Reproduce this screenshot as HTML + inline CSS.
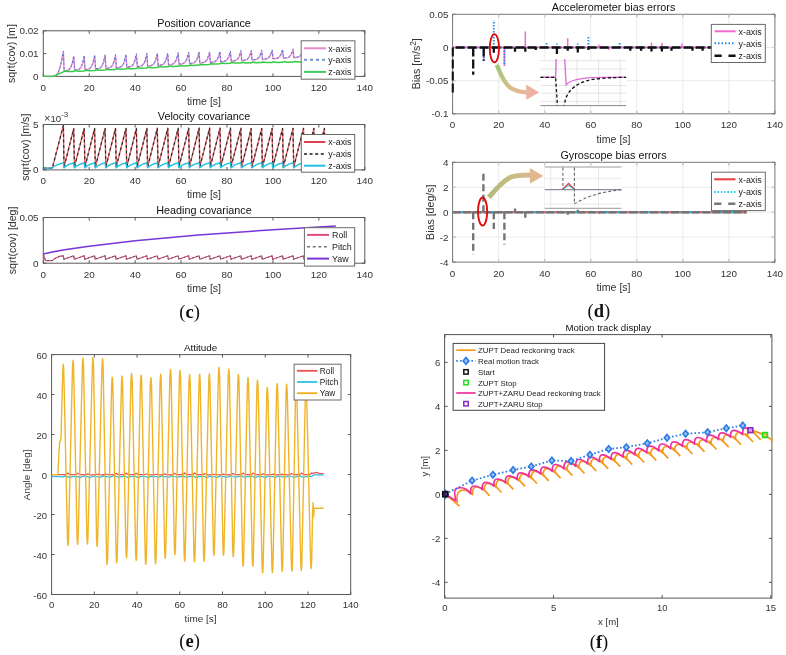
<!DOCTYPE html>
<html><head><meta charset="utf-8"><style>
html,body{margin:0;padding:0;background:#fff;}
svg{display:block;will-change:transform;}
</style></head><body>
<svg width="786" height="655" viewBox="0 0 786 655">
<rect width="786" height="655" fill="#fff"/>
<clipPath id="cp"><rect x="42.099999999999994" y="30.2" width="323.9" height="46.80000000000001"/></clipPath>
<rect x="43.3" y="30.8" width="321.5" height="45.60000000000001" fill="none" stroke="#5a5a5a" stroke-width="1.0"/>
<path d="M43.30,76.4v-3M43.30,30.8v3M89.23,76.4v-3M89.23,30.8v3M135.16,76.4v-3M135.16,30.8v3M181.09,76.4v-3M181.09,30.8v3M227.01,76.4v-3M227.01,30.8v3M272.94,76.4v-3M272.94,30.8v3M318.87,76.4v-3M318.87,30.8v3M364.80,76.4v-3M364.80,30.8v3M43.3,76.40h3M364.8,76.40h-3M43.3,53.60h3M364.8,53.60h-3M43.3,30.80h3M364.8,30.80h-3" stroke="#5a5a5a" stroke-width="1.0" fill="none"/>
<polyline points="43.3,76.4 54.0,76.4 55.6,75.8 56.8,74.7 58.5,71.9 60.1,67.2 61.5,61.7 63.3,52.0 63.4,52.0 64.1,70.8 66.6,70.6 68.0,70.3 69.2,69.5 70.2,68.4 71.1,66.6 72.1,64.1 73.8,57.0 74.6,70.2 77.1,70.0 78.4,69.6 79.7,68.9 80.6,67.8 81.6,66.1 82.6,63.5 84.2,56.6 85.0,69.6 87.5,69.4 88.9,69.0 90.1,68.3 91.1,67.2 92.1,65.5 93.0,63.0 94.7,56.1 95.5,69.0 97.9,68.8 99.4,68.4 100.6,67.7 101.6,66.6 102.5,64.9 103.5,62.4 105.2,55.7 105.9,68.4 108.3,68.2 109.7,67.9 111.0,67.2 111.9,66.2 112.9,64.6 113.8,62.3 115.5,55.8 115.6,55.9 116.3,67.8 118.8,67.6 120.2,67.3 121.4,66.6 122.4,65.6 123.4,64.0 124.3,61.7 126.0,55.4 126.8,67.2 129.3,67.0 130.7,66.7 131.9,66.0 132.9,65.0 133.8,63.4 134.8,61.2 136.4,54.9 137.3,66.6 139.8,66.4 141.1,66.1 142.4,65.4 143.3,64.4 144.3,62.9 145.3,60.6 146.9,54.5 147.6,65.8 147.7,66.0 150.1,65.9 151.5,65.6 152.7,64.9 153.7,64.0 154.6,62.6 155.6,60.4 157.4,54.3 158.1,65.5 160.6,65.3 161.9,65.0 163.2,64.3 164.1,63.4 165.1,62.0 166.1,59.9 167.7,54.2 168.5,64.9 171.0,64.7 172.4,64.4 173.6,63.7 174.6,62.8 175.6,61.4 176.5,59.4 178.2,53.7 179.0,64.3 181.5,64.1 182.9,63.8 184.1,63.1 185.1,62.2 186.0,60.8 187.0,58.8 188.7,53.3 189.5,63.7 191.8,63.5 193.3,63.2 194.6,62.5 195.6,61.6 196.5,60.3 197.5,58.3 199.1,52.8 199.8,63.0 200.0,63.1 203.7,62.6 204.9,62.0 205.9,61.2 206.9,59.9 207.7,58.4 209.6,52.9 210.3,62.5 214.2,62.0 215.4,61.4 216.4,60.6 217.3,59.4 218.3,57.5 219.9,52.5 220.8,61.9 224.6,61.4 225.9,60.8 226.8,60.0 227.8,58.8 228.8,57.0 230.4,52.1 231.2,61.3 235.1,60.8 236.3,60.2 237.3,59.5 238.3,58.2 239.2,56.5 240.9,51.7 241.7,60.7 245.6,60.2 246.8,59.6 247.8,58.9 248.7,57.7 249.7,56.0 251.4,51.4 252.0,60.1 255.9,59.7 257.1,59.1 258.1,58.4 259.1,57.3 260.0,55.7 261.7,51.3 261.8,51.5 262.5,59.5 266.4,59.1 267.6,58.5 268.6,57.8 269.5,56.8 270.5,55.2 272.2,50.9 273.0,58.9 276.8,58.5 278.1,58.0 279.1,57.3 280.0,56.2 281.0,54.7 282.6,50.5 283.5,58.3 287.3,57.9 288.6,57.4 289.5,56.7 290.5,55.7 291.5,54.1 293.1,50.1 293.8,57.6 293.9,57.7 297.7,57.3 298.9,56.8 299.9,56.2 300.8,55.3 301.8,53.9 303.6,49.9 304.3,57.1 308.1,56.7 309.4,56.3 310.3,55.7 311.3,54.7 312.3,53.4 313.9,49.7 314.7,56.5 318.6,56.1 319.8,55.7 320.8,55.1 321.8,54.2 322.7,52.8 324.4,49.3 325.2,55.9 329.1,55.5 330.3,55.1 331.3,54.5 332.2,53.6 333.2,52.3 334.9,48.9 335.5,55.1 335.7,55.3 336.1,55.3" fill="none" stroke="#e58ccc" stroke-width="1.4" clip-path="url(#cp)" stroke-linejoin="round"/>
<polyline points="43.3,76.4 54.0,76.4 55.6,75.8 56.8,74.6 58.5,71.7 60.1,66.9 61.5,61.2 63.3,51.2 63.4,51.1 64.1,70.8 66.2,70.7 66.3,70.3 68.1,69.8 69.2,69.1 70.2,67.9 71.1,66.0 72.1,63.3 73.8,55.8 74.6,69.9 77.1,69.7 78.4,69.3 79.7,68.5 80.6,67.3 81.6,65.5 82.6,62.7 84.2,55.3 85.0,69.3 87.5,69.1 88.9,68.7 90.1,67.9 91.1,66.7 92.1,64.9 93.0,62.2 94.7,54.8 95.5,68.7 97.9,68.5 99.4,68.1 100.6,67.3 101.6,66.1 102.5,64.3 103.5,61.6 105.2,54.5 105.9,68.1 108.3,67.9 109.7,67.5 111.0,66.8 111.9,65.7 112.9,64.0 113.8,61.5 115.5,54.6 115.6,54.7 116.3,67.5 118.8,67.3 120.2,66.9 121.4,66.2 122.4,65.1 123.4,63.4 124.3,60.9 126.0,54.1 126.8,66.9 129.3,66.7 130.7,66.3 131.9,65.6 132.9,64.5 133.8,62.9 134.8,60.4 136.4,53.7 137.3,66.3 139.8,66.1 141.1,65.7 142.4,65.0 143.3,63.9 144.3,62.3 145.3,59.8 146.9,53.2 147.6,65.5 147.7,65.7 150.1,65.5 151.5,65.2 152.7,64.5 153.7,63.5 154.6,62.0 155.6,59.7 157.4,53.1 158.1,65.1 160.6,64.9 161.9,64.6 163.2,63.9 164.1,62.9 165.1,61.4 166.1,59.1 167.7,53.0 168.5,64.5 171.0,64.3 172.4,64.0 173.6,63.3 174.6,62.3 175.6,60.8 176.5,58.6 178.2,52.5 179.0,63.9 181.5,63.7 182.9,63.4 184.1,62.7 185.1,61.7 186.0,60.2 187.0,58.0 188.7,52.0 189.5,63.3 191.8,63.1 193.3,62.8 194.6,62.1 195.6,61.2 196.5,59.7 197.5,57.5 199.1,51.6 199.8,62.7 200.0,62.7 202.3,62.5 203.7,62.2 204.9,61.6 205.9,60.7 206.9,59.4 207.7,57.7 209.6,51.7 210.3,62.1 212.8,61.9 214.2,61.6 215.4,61.0 216.4,60.1 217.3,58.8 218.3,56.8 219.9,51.3 220.8,61.5 223.2,61.3 224.6,61.0 225.9,60.4 226.8,59.6 227.8,58.2 228.8,56.2 230.4,50.9 231.2,60.9 233.7,60.7 235.1,60.4 236.3,59.8 237.3,59.0 238.3,57.6 239.2,55.7 240.9,50.4 241.7,60.3 244.1,60.2 245.6,59.8 246.8,59.2 247.8,58.4 248.7,57.1 249.7,55.2 251.4,50.2 252.0,59.8 255.9,59.3 257.1,58.7 258.1,57.9 259.1,56.7 260.0,55.0 261.7,50.1 261.8,50.2 262.5,59.2 266.4,58.7 267.6,58.1 268.6,57.4 269.5,56.2 270.5,54.4 272.2,49.7 273.0,58.6 276.8,58.1 278.1,57.5 279.1,56.8 280.0,55.6 281.0,53.9 282.6,49.2 283.5,58.0 287.3,57.5 288.6,57.0 289.5,56.2 290.5,55.1 291.5,53.4 293.1,48.8 293.8,57.3 293.9,57.4 297.7,56.9 298.9,56.4 299.9,55.8 300.8,54.7 301.8,53.1 303.6,48.7 304.3,56.8 308.1,56.3 309.4,55.8 310.3,55.2 311.3,54.1 312.3,52.6 313.9,48.4 314.7,56.2 318.6,55.7 319.8,55.3 320.8,54.6 321.8,53.6 322.7,52.1 324.4,48.0 325.2,55.6 329.1,55.1 330.3,54.7 331.3,54.0 332.2,53.0 333.2,51.6 334.9,47.6 335.5,54.7 335.7,55.0 336.1,55.0" fill="none" stroke="#4a78e0" stroke-width="1.0" stroke-dasharray="2,2.2" clip-path="url(#cp)" stroke-linejoin="round"/>
<polyline points="43.3,76.4 53.2,76.4 63.3,71.9 64.5,71.1 68.1,71.6 73.8,71.4 75.0,70.6 78.4,71.2 84.2,70.9 85.5,70.2 88.9,70.7 94.7,70.4 95.9,69.7 99.4,70.2 105.2,69.9 106.4,69.2 109.7,69.7 115.5,69.4 116.7,68.7 120.3,69.2 126.0,68.9 127.2,68.2 130.7,68.7 136.4,68.4 137.7,67.7 141.1,68.2 146.9,67.9 148.2,67.2 151.6,67.7 157.2,67.4 158.5,66.6 161.9,67.1 167.7,66.8 169.0,66.1 172.4,66.6 178.2,66.3 179.4,65.6 182.9,66.1 188.7,65.8 189.9,65.0 193.3,65.5 199.1,65.1 200.4,64.4 203.7,64.8 209.5,64.5 210.7,63.7 214.2,64.1 219.9,63.8 221.2,63.0 224.6,63.5 230.4,63.2 231.7,62.5 235.1,63.1 240.9,63.0 242.1,62.3 245.6,62.9 251.4,62.8 252.6,62.1 255.9,62.7 261.7,62.6 262.9,61.9 266.4,62.5 272.2,62.4 273.4,61.7 276.8,62.4 282.6,62.3 283.9,61.6 287.3,62.2 293.1,62.1 294.3,61.4 297.8,62.0 303.4,61.9 304.7,61.2 308.1,61.8 309.6,61.8 313.9,61.7 315.2,61.0 318.6,61.7 324.4,61.6 325.6,60.9 329.1,61.5 334.9,61.4 336.1,60.7" fill="none" stroke="#33cc44" stroke-width="1.5" clip-path="url(#cp)" stroke-linejoin="round"/>
<text x="43.30" y="90.60" font-size="9.85" text-anchor="middle" fill="#333333" font-family='"Liberation Sans", sans-serif' font-weight="normal">0</text>
<text x="89.23" y="90.60" font-size="9.85" text-anchor="middle" fill="#333333" font-family='"Liberation Sans", sans-serif' font-weight="normal">20</text>
<text x="135.16" y="90.60" font-size="9.85" text-anchor="middle" fill="#333333" font-family='"Liberation Sans", sans-serif' font-weight="normal">40</text>
<text x="181.09" y="90.60" font-size="9.85" text-anchor="middle" fill="#333333" font-family='"Liberation Sans", sans-serif' font-weight="normal">60</text>
<text x="227.01" y="90.60" font-size="9.85" text-anchor="middle" fill="#333333" font-family='"Liberation Sans", sans-serif' font-weight="normal">80</text>
<text x="272.94" y="90.60" font-size="9.85" text-anchor="middle" fill="#333333" font-family='"Liberation Sans", sans-serif' font-weight="normal">100</text>
<text x="318.87" y="90.60" font-size="9.85" text-anchor="middle" fill="#333333" font-family='"Liberation Sans", sans-serif' font-weight="normal">120</text>
<text x="364.80" y="90.60" font-size="9.85" text-anchor="middle" fill="#333333" font-family='"Liberation Sans", sans-serif' font-weight="normal">140</text>
<text x="38.60" y="79.85" font-size="9.85" text-anchor="end" fill="#333333" font-family='"Liberation Sans", sans-serif' font-weight="normal">0</text>
<text x="38.60" y="57.05" font-size="9.85" text-anchor="end" fill="#333333" font-family='"Liberation Sans", sans-serif' font-weight="normal">0.01</text>
<text x="38.60" y="34.25" font-size="9.85" text-anchor="end" fill="#333333" font-family='"Liberation Sans", sans-serif' font-weight="normal">0.02</text>
<text x="204.00" y="27.10" font-size="10.8" text-anchor="middle" fill="#111" font-family='"Liberation Sans", sans-serif' font-weight="normal">Position covariance</text>
<text x="204.00" y="104.60" font-size="10.6" text-anchor="middle" fill="#333333" font-family='"Liberation Sans", sans-serif' font-weight="normal">time [s]</text>
<text x="15.50" y="53.60" font-size="10.6" text-anchor="middle" fill="#333333" font-family='"Liberation Sans", sans-serif' font-weight="normal" transform="rotate(-90 15.50 53.60)">sqrt(cov) [m]</text>
<rect x="301.2" y="40.8" width="53.69999999999999" height="38.400000000000006" fill="#fff" stroke="#6a6a6a" stroke-width="1"/>
<line x1="304" y1="48.30" x2="326" y2="48.30" stroke="#e58ccc" stroke-width="2" stroke-linecap="butt"/>
<text x="328.20" y="51.50" font-size="8.9" text-anchor="start" fill="#222" font-family='"Liberation Sans", sans-serif' font-weight="normal">x-axis</text>
<line x1="304" y1="59.80" x2="326" y2="59.80" stroke="#6f8fd6" stroke-width="2" stroke-dasharray="3,3" stroke-linecap="butt"/>
<text x="328.20" y="63.00" font-size="8.9" text-anchor="start" fill="#222" font-family='"Liberation Sans", sans-serif' font-weight="normal">y-axis</text>
<line x1="304" y1="71.90" x2="326" y2="71.90" stroke="#44c866" stroke-width="2" stroke-linecap="butt"/>
<text x="328.20" y="75.10" font-size="8.9" text-anchor="start" fill="#222" font-family='"Liberation Sans", sans-serif' font-weight="normal">z-axis</text>
<clipPath id="cv"><rect x="42.099999999999994" y="123.9" width="323.9" height="46.60000000000001"/></clipPath>
<rect x="43.3" y="124.5" width="321.5" height="45.400000000000006" fill="none" stroke="#5a5a5a" stroke-width="1.0"/>
<path d="M43.30,169.9v-3M43.30,124.5v3M89.23,169.9v-3M89.23,124.5v3M135.16,169.9v-3M135.16,124.5v3M181.09,169.9v-3M181.09,124.5v3M227.01,169.9v-3M227.01,124.5v3M272.94,169.9v-3M272.94,124.5v3M318.87,169.9v-3M318.87,124.5v3M364.80,169.9v-3M364.80,124.5v3M43.3,169.90h3M364.8,169.90h-3M43.3,124.50h3M364.8,124.50h-3" stroke="#5a5a5a" stroke-width="1.0" fill="none"/>
<polyline points="43.3,168.1 52.3,168.1 63.4,125.4 64.0,167.2 73.7,128.6 74.4,167.1 84.2,128.5 84.9,167.1 94.6,128.5 95.3,167.1 105.1,128.5 105.8,167.1 115.5,128.5 116.2,167.0 126.0,128.4 126.7,167.0 136.4,128.4 137.1,167.0 146.9,128.4 147.6,167.0 157.3,128.3 158.0,166.9 167.8,128.3 168.5,166.9 178.2,128.3 178.9,166.9 188.7,128.3 189.4,166.8 199.1,128.2 199.8,166.8 209.6,128.2 210.3,166.8 220.0,128.2 220.7,166.8 230.5,128.2 231.0,166.9 240.9,128.3 241.5,167.2 251.2,128.5 251.9,167.1 261.7,128.5 262.4,167.1 272.1,128.5 272.8,167.1 282.6,128.5 283.3,167.1 293.0,128.4 293.7,167.0 303.5,128.4 304.2,167.0 313.9,128.4 314.6,167.0 324.4,128.4 325.1,166.9 326.2,162.4" fill="none" stroke="#ec6a6e" stroke-width="1.4" clip-path="url(#cv)" stroke-linejoin="round"/>
<polyline points="43.3,168.1 52.3,168.1 63.4,125.4 64.0,167.2 73.7,128.6 74.4,167.1 84.2,128.5 84.9,167.1 94.6,128.5 95.3,167.1 105.1,128.5 105.8,167.1 115.5,128.5 116.2,167.0 126.0,128.4 126.7,167.0 136.4,128.4 137.1,167.0 146.9,128.4 147.6,167.0 157.3,128.3 158.0,166.9 167.8,128.3 168.5,166.9 178.2,128.3 178.9,166.9 188.7,128.3 189.4,166.8 199.1,128.2 199.8,166.8 209.6,128.2 210.3,166.8 220.0,128.2 220.7,166.8 230.5,128.2 231.0,166.9 240.9,128.3 241.5,167.2 251.2,128.5 251.9,167.1 261.7,128.5 262.4,167.1 272.1,128.5 272.8,167.1 282.6,128.5 283.3,167.1 293.0,128.4 293.7,167.0 303.5,128.4 304.2,167.0 313.9,128.4 314.6,167.0 324.4,128.4 325.1,166.9 326.2,162.4" fill="none" stroke="#2a2a2a" stroke-width="1.2" stroke-dasharray="3,2.6" clip-path="url(#cv)" stroke-linejoin="round"/>
<polyline points="43.3,168.1 52.3,168.1 52.4,167.8 54.0,166.5 56.8,164.9 59.8,163.8 63.4,162.9 64.0,167.9 65.9,166.2 68.2,164.8 70.7,163.7 73.7,162.9 74.4,167.9 76.4,166.2 78.7,164.8 81.2,163.7 84.2,162.9 84.9,167.9 86.8,166.2 89.1,164.8 91.6,163.7 94.6,162.9 95.3,167.9 97.3,166.2 99.6,164.8 102.1,163.7 105.1,162.9 105.8,167.9 107.7,166.2 110.0,164.8 112.5,163.7 115.5,162.9 116.2,167.9 118.2,166.2 120.5,164.8 123.0,163.7 126.0,162.9 126.7,167.9 128.6,166.2 130.9,164.8 133.4,163.7 136.4,162.9 137.1,167.9 139.1,166.2 141.4,164.8 143.9,163.7 146.9,162.9 147.6,167.8 149.5,166.2 151.8,164.8 154.3,163.7 157.3,162.9 158.0,167.8 160.0,166.2 162.3,164.8 164.8,163.7 167.8,162.9 168.5,167.8 170.4,166.2 172.7,164.8 175.2,163.7 178.2,162.9 178.9,167.8 180.9,166.1 183.2,164.7 185.7,163.7 188.7,162.9 189.4,167.8 191.3,166.1 193.6,164.7 196.1,163.7 199.1,162.9 199.8,167.8 201.8,166.1 204.0,164.7 206.6,163.7 209.6,162.9 210.3,167.8 212.2,166.1 214.5,164.7 217.0,163.7 220.0,162.9 220.6,167.8 222.9,166.0 225.1,164.7 227.6,163.7 230.5,162.9 231.0,167.9 233.2,166.0 235.4,164.7 238.0,163.7 240.9,162.9 241.5,167.9 243.4,166.2 245.7,164.8 248.3,163.7 251.2,162.9 251.9,167.9 253.9,166.2 256.2,164.8 258.7,163.7 261.7,162.9 262.4,167.9 264.3,166.2 266.6,164.8 269.2,163.7 272.1,162.9 272.8,167.9 274.8,166.2 277.1,164.8 279.6,163.7 282.6,162.9 283.3,167.9 285.2,166.2 287.5,164.8 290.1,163.7 293.0,162.9 293.7,167.9 295.7,166.2 298.0,164.8 300.5,163.7 303.5,162.9 304.2,167.9 306.1,166.2 308.4,164.8 310.9,163.7 313.9,162.9 314.6,167.9 316.6,166.2 318.9,164.8 321.4,163.7 324.4,162.9 325.1,167.8 326.2,166.8" fill="none" stroke="#20c0e0" stroke-width="1.4" clip-path="url(#cv)" stroke-linejoin="round"/>
<text x="43.30" y="184.30" font-size="9.85" text-anchor="middle" fill="#333333" font-family='"Liberation Sans", sans-serif' font-weight="normal">0</text>
<text x="89.23" y="184.30" font-size="9.85" text-anchor="middle" fill="#333333" font-family='"Liberation Sans", sans-serif' font-weight="normal">20</text>
<text x="135.16" y="184.30" font-size="9.85" text-anchor="middle" fill="#333333" font-family='"Liberation Sans", sans-serif' font-weight="normal">40</text>
<text x="181.09" y="184.30" font-size="9.85" text-anchor="middle" fill="#333333" font-family='"Liberation Sans", sans-serif' font-weight="normal">60</text>
<text x="227.01" y="184.30" font-size="9.85" text-anchor="middle" fill="#333333" font-family='"Liberation Sans", sans-serif' font-weight="normal">80</text>
<text x="272.94" y="184.30" font-size="9.85" text-anchor="middle" fill="#333333" font-family='"Liberation Sans", sans-serif' font-weight="normal">100</text>
<text x="318.87" y="184.30" font-size="9.85" text-anchor="middle" fill="#333333" font-family='"Liberation Sans", sans-serif' font-weight="normal">120</text>
<text x="364.80" y="184.30" font-size="9.85" text-anchor="middle" fill="#333333" font-family='"Liberation Sans", sans-serif' font-weight="normal">140</text>
<text x="38.60" y="173.35" font-size="9.85" text-anchor="end" fill="#333333" font-family='"Liberation Sans", sans-serif' font-weight="normal">0</text>
<text x="38.60" y="127.95" font-size="9.85" text-anchor="end" fill="#333333" font-family='"Liberation Sans", sans-serif' font-weight="normal">5</text>
<text x="44.0" y="122.0" font-size="9.7" fill="#333333" font-family='"Liberation Sans", sans-serif'><tspan font-size="11">×</tspan>10<tspan dy="-4.7" font-size="7.9">-3</tspan></text>
<text x="204.00" y="120.30" font-size="10.8" text-anchor="middle" fill="#111" font-family='"Liberation Sans", sans-serif' font-weight="normal">Velocity covariance</text>
<text x="204.00" y="198.20" font-size="10.6" text-anchor="middle" fill="#333333" font-family='"Liberation Sans", sans-serif' font-weight="normal">time [s]</text>
<text x="29.00" y="147.20" font-size="10.6" text-anchor="middle" fill="#333333" font-family='"Liberation Sans", sans-serif' font-weight="normal" transform="rotate(-90 29.00 147.20)">sqrt(cov) [m/s]</text>
<rect x="301.3" y="134.5" width="53.39999999999998" height="37.69999999999999" fill="#fff" stroke="#6a6a6a" stroke-width="1"/>
<line x1="304" y1="142.00" x2="325.3" y2="142.00" stroke="#d9434f" stroke-width="2" stroke-linecap="butt"/>
<text x="328.30" y="145.20" font-size="8.9" text-anchor="start" fill="#222" font-family='"Liberation Sans", sans-serif' font-weight="normal">x-axis</text>
<line x1="304" y1="154.00" x2="325.3" y2="154.00" stroke="#1a1a1a" stroke-width="1.6" stroke-dasharray="3,2.6" stroke-linecap="butt"/>
<text x="328.30" y="157.20" font-size="8.9" text-anchor="start" fill="#222" font-family='"Liberation Sans", sans-serif' font-weight="normal">y-axis</text>
<line x1="304" y1="165.70" x2="325.3" y2="165.70" stroke="#20c0e0" stroke-width="2" stroke-linecap="butt"/>
<text x="328.30" y="168.90" font-size="8.9" text-anchor="start" fill="#222" font-family='"Liberation Sans", sans-serif' font-weight="normal">z-axis</text>
<clipPath id="ch"><rect x="42.099999999999994" y="216.9" width="323.9" height="46.89999999999999"/></clipPath>
<rect x="43.3" y="217.5" width="321.5" height="45.69999999999999" fill="none" stroke="#5a5a5a" stroke-width="1.0"/>
<path d="M43.30,263.2v-3M43.30,217.5v3M89.23,263.2v-3M89.23,217.5v3M135.16,263.2v-3M135.16,217.5v3M181.09,263.2v-3M181.09,217.5v3M227.01,263.2v-3M227.01,217.5v3M272.94,263.2v-3M272.94,217.5v3M318.87,263.2v-3M318.87,217.5v3M364.80,263.2v-3M364.80,217.5v3M43.3,263.20h3M364.8,263.20h-3M43.3,217.50h3M364.8,217.50h-3" stroke="#5a5a5a" stroke-width="1.0" fill="none"/>
<polyline points="43.3,254.5 45.6,260.6 52.3,260.6 55.0,258.5 57.8,257.0 60.5,256.1 63.3,255.8 63.9,259.3 73.7,255.8 74.3,259.3 84.2,255.8 84.8,259.3 94.6,255.8 95.2,259.3 105.1,255.8 105.6,259.3 115.5,255.8 116.1,259.3 126.0,255.8 126.5,259.3 136.4,255.8 137.0,259.3 146.9,255.8 147.4,259.3 157.3,255.8 157.9,259.2 167.8,255.8 168.3,259.2 178.2,255.8 178.8,259.2 188.7,255.8 189.2,259.2 199.1,255.8 199.7,259.2 209.6,255.8 210.1,259.2 220.0,255.8 220.6,259.2 230.5,255.8 230.9,259.2 240.9,255.8 241.4,259.3 251.2,255.8 251.8,259.3 261.7,255.8 262.3,259.3 272.1,255.8 272.7,259.3 282.6,255.8 283.2,259.3 293.0,255.8 293.6,259.3 303.5,255.8 304.1,259.3 313.9,255.8 314.5,259.3 324.4,255.8 325.0,259.2 334.8,255.8 335.3,258.9 335.4,259.2 335.9,259.1" fill="none" stroke="#e34d7a" stroke-width="1.2" clip-path="url(#ch)" stroke-linejoin="round"/>
<polyline points="43.3,254.5 45.6,260.6 52.3,260.6 55.0,258.5 57.8,257.0 60.5,256.1 63.3,255.8 63.9,259.3 73.7,255.8 74.3,259.3 84.2,255.8 84.8,259.3 94.6,255.8 95.2,259.3 105.1,255.8 105.6,259.3 115.5,255.8 116.1,259.3 126.0,255.8 126.5,259.3 136.4,255.8 137.0,259.3 146.9,255.8 147.4,259.3 157.3,255.8 157.9,259.2 167.8,255.8 168.3,259.2 178.2,255.8 178.8,259.2 188.7,255.8 189.2,259.2 199.1,255.8 199.7,259.2 209.6,255.8 210.1,259.2 220.0,255.8 220.6,259.2 230.5,255.8 230.9,259.2 240.9,255.8 241.4,259.3 251.2,255.8 251.8,259.3 261.7,255.8 262.3,259.3 272.1,255.8 272.7,259.3 282.6,255.8 283.2,259.3 293.0,255.8 293.6,259.3 303.5,255.8 304.1,259.3 313.9,255.8 314.5,259.3 324.4,255.8 325.0,259.2 334.8,255.8 335.3,258.9 335.4,259.2 335.9,259.1" fill="none" stroke="#555555" stroke-width="1.0" stroke-dasharray="2,2" clip-path="url(#ch)" stroke-linejoin="round"/>
<polyline points="43.3,254.0 54.8,251.5 66.3,249.5 89.2,246.2 135.2,240.7 198.5,235.0 272.9,229.8 335.9,226.0" fill="none" stroke="#7a35d8" stroke-width="1.5" clip-path="url(#ch)" stroke-linejoin="round"/>
<text x="43.30" y="277.50" font-size="9.85" text-anchor="middle" fill="#333333" font-family='"Liberation Sans", sans-serif' font-weight="normal">0</text>
<text x="89.23" y="277.50" font-size="9.85" text-anchor="middle" fill="#333333" font-family='"Liberation Sans", sans-serif' font-weight="normal">20</text>
<text x="135.16" y="277.50" font-size="9.85" text-anchor="middle" fill="#333333" font-family='"Liberation Sans", sans-serif' font-weight="normal">40</text>
<text x="181.09" y="277.50" font-size="9.85" text-anchor="middle" fill="#333333" font-family='"Liberation Sans", sans-serif' font-weight="normal">60</text>
<text x="227.01" y="277.50" font-size="9.85" text-anchor="middle" fill="#333333" font-family='"Liberation Sans", sans-serif' font-weight="normal">80</text>
<text x="272.94" y="277.50" font-size="9.85" text-anchor="middle" fill="#333333" font-family='"Liberation Sans", sans-serif' font-weight="normal">100</text>
<text x="318.87" y="277.50" font-size="9.85" text-anchor="middle" fill="#333333" font-family='"Liberation Sans", sans-serif' font-weight="normal">120</text>
<text x="364.80" y="277.50" font-size="9.85" text-anchor="middle" fill="#333333" font-family='"Liberation Sans", sans-serif' font-weight="normal">140</text>
<text x="38.60" y="266.65" font-size="9.85" text-anchor="end" fill="#333333" font-family='"Liberation Sans", sans-serif' font-weight="normal">0</text>
<text x="38.60" y="220.95" font-size="9.85" text-anchor="end" fill="#333333" font-family='"Liberation Sans", sans-serif' font-weight="normal">0.05</text>
<text x="204.00" y="214.00" font-size="10.8" text-anchor="middle" fill="#111" font-family='"Liberation Sans", sans-serif' font-weight="normal">Heading covariance</text>
<text x="204.00" y="292.10" font-size="10.6" text-anchor="middle" fill="#333333" font-family='"Liberation Sans", sans-serif' font-weight="normal">time [s]</text>
<text x="16.00" y="240.40" font-size="10.6" text-anchor="middle" fill="#333333" font-family='"Liberation Sans", sans-serif' font-weight="normal" transform="rotate(-90 16.00 240.40)">sqrt(cov) [deg]</text>
<rect x="304.4" y="227.7" width="50.30000000000001" height="38.400000000000034" fill="#fff" stroke="#6a6a6a" stroke-width="1"/>
<line x1="307.1" y1="234.90" x2="329" y2="234.90" stroke="#e34d7a" stroke-width="2" stroke-linecap="butt"/>
<text x="332.00" y="238.10" font-size="8.9" text-anchor="start" fill="#222" font-family='"Liberation Sans", sans-serif' font-weight="normal">Roll</text>
<line x1="307.1" y1="246.80" x2="329" y2="246.80" stroke="#777" stroke-width="1.6" stroke-dasharray="3,2.6" stroke-linecap="butt"/>
<text x="332.00" y="250.00" font-size="8.9" text-anchor="start" fill="#222" font-family='"Liberation Sans", sans-serif' font-weight="normal">Pitch</text>
<line x1="307.1" y1="258.60" x2="329" y2="258.60" stroke="#7a35d8" stroke-width="2" stroke-linecap="butt"/>
<text x="332.00" y="261.80" font-size="8.9" text-anchor="start" fill="#222" font-family='"Liberation Sans", sans-serif' font-weight="normal">Yaw</text>
<text x="189.60" y="318.10" font-size="18.5" text-anchor="middle" fill="#111" font-family='"Liberation Serif", serif' font-weight="normal">(<tspan font-weight="bold">c</tspan>)</text>
<clipPath id="ca"><rect x="451.40000000000003" y="13.700000000000001" width="324.69999999999993" height="100.7"/></clipPath>
<rect x="452.6" y="14.3" width="322.29999999999995" height="99.5" fill="none" stroke="#777" stroke-width="1.0"/>
<path d="M452.60,113.8v-3M452.60,14.3v3M498.64,113.8v-3M498.64,14.3v3M544.69,113.8v-3M544.69,14.3v3M590.73,113.8v-3M590.73,14.3v3M636.77,113.8v-3M636.77,14.3v3M682.81,113.8v-3M682.81,14.3v3M728.86,113.8v-3M728.86,14.3v3M774.90,113.8v-3M774.90,14.3v3M452.6,113.80h3M774.9,113.80h-3M452.6,80.63h3M774.9,80.63h-3M452.6,47.47h3M774.9,47.47h-3M452.6,14.30h3M774.9,14.30h-3" stroke="#777" stroke-width="1.0" fill="none"/>
<line x1="498.64" y1="14.3" x2="498.64" y2="113.8" stroke="#e6e6e6" stroke-width="0.8"/>
<line x1="544.69" y1="14.3" x2="544.69" y2="113.8" stroke="#e6e6e6" stroke-width="0.8"/>
<line x1="590.73" y1="14.3" x2="590.73" y2="113.8" stroke="#e6e6e6" stroke-width="0.8"/>
<line x1="636.77" y1="14.3" x2="636.77" y2="113.8" stroke="#e6e6e6" stroke-width="0.8"/>
<line x1="682.81" y1="14.3" x2="682.81" y2="113.8" stroke="#e6e6e6" stroke-width="0.8"/>
<line x1="728.86" y1="14.3" x2="728.86" y2="113.8" stroke="#e6e6e6" stroke-width="0.8"/>
<line x1="452.6" y1="80.63" x2="774.9" y2="80.63" stroke="#e6e6e6" stroke-width="0.8"/>
<line x1="452.6" y1="47.47" x2="774.9" y2="47.47" stroke="#e6e6e6" stroke-width="0.8"/>
<path d="M452.6,47.5H746.1" stroke="#f06ccc" stroke-width="1.5" clip-path="url(#ca)"/>
<path d="M504.4,47.5V66.0M525.3,47.5V31.5M567.7,47.5V38.2M577.8,47.5V51.4M598.8,47.5V44.8M608.9,47.5V50.1M651.5,47.5V42.8M661.9,47.5V42.8M682.1,47.5V43.5M483.7,47.5V59.4" fill="none" stroke="#f06ccc" stroke-width="1.5" clip-path="url(#ca)"/>
<path d="M452.6,47.5H746.1" stroke="#2f86e8" stroke-width="1.9" stroke-dasharray="1.4,1.6" clip-path="url(#ca)"/>
<path d="M473.2,47.5V56.1M483.7,47.5V60.7M493.8,47.5V20.3M504.4,47.5V66.0M546.5,47.5V42.8M556.9,47.5V43.5M577.8,47.5V43.5M588.4,47.5V35.5M619.7,47.5V41.5M630.3,47.5V45.5M641.1,47.5V45.5" fill="none" stroke="#2f86e8" stroke-width="1.9" stroke-dasharray="1.4,1.6" clip-path="url(#ca)"/>
<path d="M452.7,92.6V47.5H746.1" fill="none" stroke="#111" stroke-width="2.3" stroke-dasharray="9,3" clip-path="url(#ca)"/>
<path d="M473.2,47.5V74.7M483.7,47.5V60.7M493.8,47.5V52.8M515.0,47.5V51.8M525.3,47.5V51.8M535.7,47.5V50.1M556.9,47.5V54.1M567.7,47.5V50.8M577.8,47.5V52.6M588.4,47.5V50.1M630.3,47.5V50.8M641.1,47.5V50.8M651.5,47.5V51.4M661.9,47.5V51.4M671.5,47.5V50.8M692.5,47.5V50.8M702.6,47.5V50.8" fill="none" stroke="#111" stroke-width="2.3" stroke-dasharray="9,3" clip-path="url(#ca)"/>
<text x="452.60" y="128.30" font-size="9.85" text-anchor="middle" fill="#333333" font-family='"Liberation Sans", sans-serif' font-weight="normal">0</text>
<text x="498.64" y="128.30" font-size="9.85" text-anchor="middle" fill="#333333" font-family='"Liberation Sans", sans-serif' font-weight="normal">20</text>
<text x="544.69" y="128.30" font-size="9.85" text-anchor="middle" fill="#333333" font-family='"Liberation Sans", sans-serif' font-weight="normal">40</text>
<text x="590.73" y="128.30" font-size="9.85" text-anchor="middle" fill="#333333" font-family='"Liberation Sans", sans-serif' font-weight="normal">60</text>
<text x="636.77" y="128.30" font-size="9.85" text-anchor="middle" fill="#333333" font-family='"Liberation Sans", sans-serif' font-weight="normal">80</text>
<text x="682.81" y="128.30" font-size="9.85" text-anchor="middle" fill="#333333" font-family='"Liberation Sans", sans-serif' font-weight="normal">100</text>
<text x="728.86" y="128.30" font-size="9.85" text-anchor="middle" fill="#333333" font-family='"Liberation Sans", sans-serif' font-weight="normal">120</text>
<text x="774.90" y="128.30" font-size="9.85" text-anchor="middle" fill="#333333" font-family='"Liberation Sans", sans-serif' font-weight="normal">140</text>
<text x="448.40" y="117.25" font-size="9.85" text-anchor="end" fill="#333333" font-family='"Liberation Sans", sans-serif' font-weight="normal">-0.1</text>
<text x="448.40" y="84.08" font-size="9.85" text-anchor="end" fill="#333333" font-family='"Liberation Sans", sans-serif' font-weight="normal">-0.05</text>
<text x="448.40" y="50.92" font-size="9.85" text-anchor="end" fill="#333333" font-family='"Liberation Sans", sans-serif' font-weight="normal">0</text>
<text x="448.40" y="17.75" font-size="9.85" text-anchor="end" fill="#333333" font-family='"Liberation Sans", sans-serif' font-weight="normal">0.05</text>
<text x="613.50" y="10.90" font-size="10.8" text-anchor="middle" fill="#111" font-family='"Liberation Sans", sans-serif' font-weight="normal">Accelerometer bias errors</text>
<text x="613.50" y="143.30" font-size="10.6" text-anchor="middle" fill="#333333" font-family='"Liberation Sans", sans-serif' font-weight="normal">time [s]</text>
<text transform="translate(420.2 63.8) rotate(-90)" font-size="10.6" text-anchor="middle" fill="#333333" font-family='"Liberation Sans", sans-serif'>Bias [m/s<tspan dy="-4.6" font-size="8.2">2</tspan><tspan dy="4.6">]</tspan></text>
<rect x="711.3" y="24.4" width="54.0" height="38.1" fill="#fff" stroke="#6a6a6a" stroke-width="1"/>
<line x1="714.5" y1="31.30" x2="735.6" y2="31.30" stroke="#f06ccc" stroke-width="2" stroke-linecap="butt"/>
<text x="738.50" y="34.50" font-size="8.9" text-anchor="start" fill="#222" font-family='"Liberation Sans", sans-serif' font-weight="normal">x-axis</text>
<line x1="714.5" y1="43.30" x2="735.6" y2="43.30" stroke="#2f86e8" stroke-width="2" stroke-dasharray="1.5,2" stroke-linecap="butt"/>
<text x="738.50" y="46.50" font-size="8.9" text-anchor="start" fill="#222" font-family='"Liberation Sans", sans-serif' font-weight="normal">y-axis</text>
<line x1="714.5" y1="55.80" x2="735.6" y2="55.80" stroke="#111" stroke-width="2.6" stroke-dasharray="7.2,6.8" stroke-linecap="butt"/>
<text x="738.50" y="59.00" font-size="8.9" text-anchor="start" fill="#222" font-family='"Liberation Sans", sans-serif' font-weight="normal">z-axis</text>
<rect x="540.3" y="59" width="86" height="47" fill="#fff"/>
<line x1="540.3" y1="60.7" x2="626.3" y2="60.7" stroke="#e2e2e2" stroke-width="0.9"/>
<line x1="540.3" y1="69" x2="626.3" y2="69" stroke="#e2e2e2" stroke-width="0.9"/>
<line x1="540.3" y1="85.5" x2="626.3" y2="85.5" stroke="#e2e2e2" stroke-width="0.9"/>
<line x1="540.3" y1="93.2" x2="626.3" y2="93.2" stroke="#e2e2e2" stroke-width="0.9"/>
<line x1="540.3" y1="101.4" x2="626.3" y2="101.4" stroke="#e2e2e2" stroke-width="0.9"/>
<line x1="555.4" y1="59" x2="555.4" y2="105.6" stroke="#e2e2e2" stroke-width="0.9"/>
<line x1="577" y1="59" x2="577" y2="105.6" stroke="#e2e2e2" stroke-width="0.9"/>
<line x1="598.6" y1="59" x2="598.6" y2="105.6" stroke="#e2e2e2" stroke-width="0.9"/>
<line x1="620.2" y1="59" x2="620.2" y2="105.6" stroke="#e2e2e2" stroke-width="0.9"/>
<line x1="540.3" y1="105.6" x2="626.3" y2="105.6" stroke="#888" stroke-width="1"/>
<clipPath id="cia"><rect x="540.3" y="59" width="86" height="46.6"/></clipPath>
<path d="M540.3,77.3 L555.6,77.3 L556.3,58 M564.6,58 L566.2,84.8 C570,80 580,77.6 600,77.4 L626.3,77.3" fill="none" stroke="#e070d8" stroke-width="1.4" clip-path="url(#cia)"/>
<path d="M540.3,77.3 L555.6,77.3 L557.6,108 M563.7,108 L565.3,100 C568,90 578,80 600,78.5 C610,77.6 620,77.4 626.3,77.3" fill="none" stroke="#111" stroke-width="1.3" stroke-dasharray="3.2,2.2" clip-path="url(#cia)"/>
<ellipse cx="494.4" cy="48.2" rx="4.6" ry="14.1" fill="none" stroke="#dd1111" stroke-width="1.9"/>
<defs><linearGradient id="ga" x1="496" y1="64" x2="539" y2="92" gradientUnits="userSpaceOnUse"><stop offset="0" stop-color="#9fc873"/><stop offset="0.5" stop-color="#d8bf8e"/><stop offset="1" stop-color="#f5ada7"/></linearGradient>
<linearGradient id="gg" x1="489" y1="197" x2="543" y2="176" gradientUnits="userSpaceOnUse"><stop offset="0" stop-color="#b3ba78"/><stop offset="0.55" stop-color="#c9bd86"/><stop offset="1" stop-color="#eab692"/></linearGradient></defs>
<path d="M496.8,64.9 C500,72 503,82 510,87.5 C515,91 520,92 527,92.4" fill="none" stroke="url(#ga)" stroke-width="4.4"/>
<path d="M526.2,84.4 L539.2,92.4 L526.2,99.7 Z" fill="url(#ga)"/>
<clipPath id="cg"><rect x="451.40000000000003" y="161.70000000000002" width="324.69999999999993" height="101.00000000000001"/></clipPath>
<rect x="452.6" y="162.3" width="322.29999999999995" height="99.80000000000001" fill="none" stroke="#777" stroke-width="1.0"/>
<path d="M452.60,262.1v-3M452.60,162.3v3M498.64,262.1v-3M498.64,162.3v3M544.69,262.1v-3M544.69,162.3v3M590.73,262.1v-3M590.73,162.3v3M636.77,262.1v-3M636.77,162.3v3M682.81,262.1v-3M682.81,162.3v3M728.86,262.1v-3M728.86,162.3v3M774.90,262.1v-3M774.90,162.3v3M452.6,262.10h3M774.9,262.10h-3M452.6,237.15h3M774.9,237.15h-3M452.6,212.20h3M774.9,212.20h-3M452.6,187.25h3M774.9,187.25h-3M452.6,162.30h3M774.9,162.30h-3" stroke="#777" stroke-width="1.0" fill="none"/>
<line x1="498.64" y1="162.3" x2="498.64" y2="262.1" stroke="#e6e6e6" stroke-width="0.8"/>
<line x1="544.69" y1="162.3" x2="544.69" y2="262.1" stroke="#e6e6e6" stroke-width="0.8"/>
<line x1="590.73" y1="162.3" x2="590.73" y2="262.1" stroke="#e6e6e6" stroke-width="0.8"/>
<line x1="636.77" y1="162.3" x2="636.77" y2="262.1" stroke="#e6e6e6" stroke-width="0.8"/>
<line x1="682.81" y1="162.3" x2="682.81" y2="262.1" stroke="#e6e6e6" stroke-width="0.8"/>
<line x1="728.86" y1="162.3" x2="728.86" y2="262.1" stroke="#e6e6e6" stroke-width="0.8"/>
<line x1="452.6" y1="237.15" x2="774.9" y2="237.15" stroke="#e6e6e6" stroke-width="0.8"/>
<line x1="452.6" y1="212.20" x2="774.9" y2="212.20" stroke="#e6e6e6" stroke-width="0.8"/>
<line x1="452.6" y1="187.25" x2="774.9" y2="187.25" stroke="#e6e6e6" stroke-width="0.8"/>
<path d="M452.6,212.2H746.6" stroke="#e83c3c" stroke-width="2.0" clip-path="url(#cg)"/>
<path d="M577.8,212.2V211.0M598.8,212.2V213.4" fill="none" stroke="#e83c3c" stroke-width="1.6" clip-path="url(#cg)"/>
<path d="M452.6,212.2H746.6" stroke="#22c6e6" stroke-width="2.2" stroke-dasharray="1.5,1.5" clip-path="url(#cg)"/>
<path d="M452.6,212.2H746.6" stroke="#747474" stroke-width="2.4" stroke-dasharray="8,2.4" clip-path="url(#cg)"/>
<path d="M473.2,212.2V254.6M483.4,212.2V171.0M493.8,212.2V229.0M504.4,212.2V244.6M515.0,212.2V208.5M525.3,212.2V217.8M567.7,212.2V214.7M577.8,212.2V209.7" fill="none" stroke="#747474" stroke-width="2.4" stroke-dasharray="7,3.5" clip-path="url(#cg)"/>
<text x="452.60" y="276.50" font-size="9.85" text-anchor="middle" fill="#333333" font-family='"Liberation Sans", sans-serif' font-weight="normal">0</text>
<text x="498.64" y="276.50" font-size="9.85" text-anchor="middle" fill="#333333" font-family='"Liberation Sans", sans-serif' font-weight="normal">20</text>
<text x="544.69" y="276.50" font-size="9.85" text-anchor="middle" fill="#333333" font-family='"Liberation Sans", sans-serif' font-weight="normal">40</text>
<text x="590.73" y="276.50" font-size="9.85" text-anchor="middle" fill="#333333" font-family='"Liberation Sans", sans-serif' font-weight="normal">60</text>
<text x="636.77" y="276.50" font-size="9.85" text-anchor="middle" fill="#333333" font-family='"Liberation Sans", sans-serif' font-weight="normal">80</text>
<text x="682.81" y="276.50" font-size="9.85" text-anchor="middle" fill="#333333" font-family='"Liberation Sans", sans-serif' font-weight="normal">100</text>
<text x="728.86" y="276.50" font-size="9.85" text-anchor="middle" fill="#333333" font-family='"Liberation Sans", sans-serif' font-weight="normal">120</text>
<text x="774.90" y="276.50" font-size="9.85" text-anchor="middle" fill="#333333" font-family='"Liberation Sans", sans-serif' font-weight="normal">140</text>
<text x="448.60" y="265.55" font-size="9.85" text-anchor="end" fill="#333333" font-family='"Liberation Sans", sans-serif' font-weight="normal">-4</text>
<text x="448.60" y="240.60" font-size="9.85" text-anchor="end" fill="#333333" font-family='"Liberation Sans", sans-serif' font-weight="normal">-2</text>
<text x="448.60" y="215.65" font-size="9.85" text-anchor="end" fill="#333333" font-family='"Liberation Sans", sans-serif' font-weight="normal">0</text>
<text x="448.60" y="190.70" font-size="9.85" text-anchor="end" fill="#333333" font-family='"Liberation Sans", sans-serif' font-weight="normal">2</text>
<text x="448.60" y="165.75" font-size="9.85" text-anchor="end" fill="#333333" font-family='"Liberation Sans", sans-serif' font-weight="normal">4</text>
<text x="613.50" y="158.50" font-size="10.8" text-anchor="middle" fill="#111" font-family='"Liberation Sans", sans-serif' font-weight="normal">Gyroscope bias errors</text>
<text x="613.50" y="291.20" font-size="10.6" text-anchor="middle" fill="#333333" font-family='"Liberation Sans", sans-serif' font-weight="normal">time [s]</text>
<text x="434.50" y="212.20" font-size="10.6" text-anchor="middle" fill="#333333" font-family='"Liberation Sans", sans-serif' font-weight="normal" transform="rotate(-90 434.50 212.20)">Bias [deg/s]</text>
<rect x="711.5" y="172.2" width="53.799999999999955" height="38.400000000000006" fill="#fff" stroke="#6a6a6a" stroke-width="1"/>
<line x1="714.2" y1="179.30" x2="735.5" y2="179.30" stroke="#e83c3c" stroke-width="2" stroke-linecap="butt"/>
<text x="738.50" y="182.50" font-size="8.9" text-anchor="start" fill="#222" font-family='"Liberation Sans", sans-serif' font-weight="normal">x-axis</text>
<line x1="714.2" y1="191.90" x2="735.5" y2="191.90" stroke="#22c6e6" stroke-width="2" stroke-dasharray="1.5,1.8" stroke-linecap="butt"/>
<text x="738.50" y="195.10" font-size="8.9" text-anchor="start" fill="#222" font-family='"Liberation Sans", sans-serif' font-weight="normal">y-axis</text>
<line x1="714.2" y1="203.80" x2="735.5" y2="203.80" stroke="#777" stroke-width="2.4" stroke-dasharray="7.2,6.8" stroke-linecap="butt"/>
<text x="738.50" y="207.00" font-size="8.9" text-anchor="start" fill="#222" font-family='"Liberation Sans", sans-serif' font-weight="normal">z-axis</text>
<rect x="544.8" y="166" width="76.6" height="43" fill="#fff"/>
<line x1="544.8" y1="178.3" x2="621.4" y2="178.3" stroke="#e6e6e6" stroke-width="0.9"/>
<line x1="544.8" y1="203.9" x2="621.4" y2="203.9" stroke="#e6e6e6" stroke-width="0.9"/>
<line x1="550.8" y1="167" x2="550.8" y2="208.3" stroke="#e6e6e6" stroke-width="0.9"/>
<line x1="574.4" y1="167" x2="574.4" y2="208.3" stroke="#e6e6e6" stroke-width="0.9"/>
<line x1="598.5" y1="167" x2="598.5" y2="208.3" stroke="#e6e6e6" stroke-width="0.9"/>
<line x1="544.8" y1="167" x2="621.4" y2="167" stroke="#999" stroke-width="1"/>
<line x1="544.8" y1="208.3" x2="621.4" y2="208.3" stroke="#999" stroke-width="1"/>
<path d="M544.8,189.6 L621.4,189.6" stroke="#8a8aa0" stroke-width="1.3"/>
<path d="M562.3,189.6 L568.6,185.5 L574.6,189.6" fill="none" stroke="#3ccfe6" stroke-width="1.2"/>
<path d="M562.3,189.4 L568.6,183.5 L574.6,189.4" fill="none" stroke="#e84040" stroke-width="1.3"/>
<path d="M562.9,167.5 L562.9,189.6 M574.4,167.5 L574.4,203.9 C585,197 600,192 621.4,189.8" fill="none" stroke="#666" stroke-width="1.1" stroke-dasharray="3,2.2"/>
<ellipse cx="482.6" cy="211.5" rx="4.6" ry="14" fill="none" stroke="#dd1111" stroke-width="1.9"/>
<path d="M488.9,197.4 C495,190 502,182 509.4,177.8 C514,175.5 520,175.1 530,175.1" fill="none" stroke="url(#gg)" stroke-width="5"/>
<path d="M529.9,168 L543.4,176 L529.9,183.6 Z" fill="url(#gg)"/>
<text x="598.80" y="317.30" font-size="18.5" text-anchor="middle" fill="#111" font-family='"Liberation Serif", serif' font-weight="normal">(<tspan font-weight="bold">d</tspan>)</text>
<clipPath id="ce"><rect x="50.4" y="354.0" width="301.49999999999994" height="241.09999999999997"/></clipPath>
<rect x="51.6" y="354.6" width="299.09999999999997" height="239.89999999999998" fill="none" stroke="#5a5a5a" stroke-width="1.0"/>
<path d="M51.60,594.5v-3M51.60,354.6v3M94.33,594.5v-3M94.33,354.6v3M137.06,594.5v-3M137.06,354.6v3M179.79,594.5v-3M179.79,354.6v3M222.51,594.5v-3M222.51,354.6v3M265.24,594.5v-3M265.24,354.6v3M307.97,594.5v-3M307.97,354.6v3M350.70,594.5v-3M350.70,354.6v3M51.6,594.50h3M350.7,594.50h-3M51.6,554.52h3M350.7,554.52h-3M51.6,514.53h3M350.7,514.53h-3M51.6,474.55h3M350.7,474.55h-3M51.6,434.57h3M350.7,434.57h-3M51.6,394.58h3M350.7,394.58h-3M51.6,354.60h3M350.7,354.60h-3" stroke="#5a5a5a" stroke-width="1.0" fill="none"/>
<path d="M51.6,476.6 L53.6,476.6 L55.6,476.6 L57.6,476.6 L59.7,476.6 L61.7,476.8 L63.7,476.5 L65.7,476.0 L67.7,476.6 L69.7,477.6 L71.8,476.6 L73.8,476.5 L75.8,476.3 L77.8,476.6 L79.8,477.7 L81.8,476.6 L83.8,476.3 L85.9,476.4 L87.9,476.6 L89.9,477.7 L91.9,476.6 L93.9,476.1 L95.9,476.5 L98.0,476.7 L100.0,477.4 L102.0,476.6 L104.0,475.8 L106.0,476.5 L108.0,476.9 L110.1,477.0 L112.1,476.5 L114.1,475.8 L116.1,476.5 L118.1,477.2 L120.1,476.8 L122.1,476.5 L124.2,475.9 L126.2,476.6 L128.2,477.5 L130.2,476.6 L132.2,476.5 L134.2,476.2 L136.3,476.6 L138.3,477.7 L140.3,476.6 L142.3,476.4 L144.3,476.4 L146.3,476.6 L148.3,477.7 L150.4,476.6 L152.4,476.1 L154.4,476.5 L156.4,476.7 L158.4,477.4 L160.4,476.6 L162.5,475.9 L164.5,476.5 L166.5,476.9 L168.5,477.1 L170.5,476.6 L172.5,475.8 L174.5,476.5 L176.6,477.2 L178.6,476.8 L180.6,476.5 L182.6,475.9 L184.6,476.6 L186.6,477.5 L188.7,476.7 L190.7,476.5 L192.7,476.2 L194.7,476.6 L196.7,477.7 L198.7,476.6 L200.8,476.4 L202.8,476.4 L204.8,476.6 L206.8,477.7 L208.8,476.6 L210.8,476.2 L212.8,476.5 L214.9,476.7 L216.9,477.5 L218.9,476.6 L220.9,475.9 L222.9,476.5 L224.9,476.8 L227.0,477.1 L229.0,476.6 L231.0,475.8 L233.0,476.5 L235.0,477.1 L237.0,476.8 L239.0,476.5 L241.1,475.9 L243.1,476.6 L245.1,477.4 L247.1,476.7 L249.1,476.5 L251.1,476.1 L253.2,476.6 L255.2,477.7 L257.2,476.6 L259.2,476.4 L261.2,476.4 L263.2,476.6 L265.2,477.7 L267.3,476.6 L269.3,476.2 L271.3,476.5 L273.3,476.6 L275.3,477.5 L277.3,476.6 L279.4,475.9 L281.4,476.5 L283.4,476.8 L285.4,477.2 L287.4,476.6 L289.4,475.8 L291.5,476.5 L293.5,477.1 L295.5,476.9 L297.5,476.5 L299.5,475.8 L301.5,476.6 L303.5,477.4 L305.6,476.7 L307.6,476.5 L309.6,476.1 L311.6,476.6 L313.6,474.9 L315.6,474.9 L317.7,474.9 L319.7,474.9 L321.7,474.9 L323.7,474.9" fill="none" stroke="#2ec0e8" stroke-width="1.3" clip-path="url(#ce)"/>
<path d="M51.6,474.7 L53.6,474.7 L55.6,474.7 L57.6,474.7 L59.7,474.7 L61.7,474.7 L63.7,474.7 L65.7,474.7 L67.7,473.0 L69.7,474.7 L71.8,474.7 L73.8,474.7 L75.8,474.7 L77.8,473.3 L79.8,474.7 L81.8,474.7 L83.8,474.7 L85.9,474.6 L87.9,473.9 L89.9,474.7 L91.9,474.8 L93.9,474.7 L95.9,474.4 L98.0,474.4 L100.0,474.7 L102.0,474.8 L104.0,474.7 L106.0,473.9 L108.0,474.7 L110.1,474.7 L112.1,474.7 L114.1,474.7 L116.1,473.3 L118.1,474.7 L120.1,474.7 L122.1,474.7 L124.2,474.7 L126.2,473.0 L128.2,474.7 L130.2,474.7 L132.2,474.7 L134.2,474.7 L136.3,473.2 L138.3,474.7 L140.3,474.7 L142.3,474.7 L144.3,474.7 L146.3,473.8 L148.3,474.7 L150.4,474.8 L152.4,474.7 L154.4,474.5 L156.4,474.4 L158.4,474.7 L160.4,474.8 L162.5,474.7 L164.5,474.0 L166.5,474.6 L168.5,474.7 L170.5,474.8 L172.5,474.7 L174.5,473.3 L176.6,474.7 L178.6,474.7 L180.6,474.7 L182.6,474.7 L184.6,473.0 L186.6,474.7 L188.7,474.7 L190.7,474.7 L192.7,474.7 L194.7,473.1 L196.7,474.7 L198.7,474.7 L200.8,474.7 L202.8,474.7 L204.8,473.7 L206.8,474.7 L208.8,474.8 L210.8,474.7 L212.8,474.5 L214.9,474.3 L216.9,474.7 L218.9,474.8 L220.9,474.7 L222.9,474.1 L224.9,474.6 L227.0,474.7 L229.0,474.8 L231.0,474.7 L233.0,473.4 L235.0,474.7 L237.0,474.7 L239.0,474.7 L241.1,474.7 L243.1,473.0 L245.1,474.7 L247.1,474.7 L249.1,474.7 L251.1,474.7 L253.2,473.1 L255.2,474.7 L257.2,474.7 L259.2,474.7 L261.2,474.7 L263.2,473.6 L265.2,474.7 L267.3,474.8 L269.3,474.7 L271.3,474.5 L273.3,474.2 L275.3,474.7 L277.3,474.8 L279.4,474.7 L281.4,474.1 L283.4,474.6 L285.4,474.7 L287.4,474.8 L289.4,474.7 L291.5,473.5 L293.5,474.7 L295.5,474.7 L297.5,474.7 L299.5,474.7 L301.5,473.0 L303.5,474.7 L305.6,474.7 L307.6,474.7 L309.6,474.7 L311.6,473.0 L313.6,473.3 L315.6,472.4 L317.7,472.9 L319.7,473.5 L321.7,473.5 L323.7,473.5" fill="none" stroke="#ec5050" stroke-width="1.2" clip-path="url(#ce)"/>
<path d="M51.6,474.6 L57.8,474.6 L59.6,442.0 L60.6,440.5 L61.0,437.0 L62.8,371.3 L63.1,365.8 L63.3,364.3 L63.5,365.8 L63.8,371.3 L67.5,539.4 L67.8,544.1 L68.0,545.4 L68.2,544.1 L68.5,539.4 L72.5,367.3 L72.9,361.8 L73.1,360.3 L73.3,361.8 L73.6,367.3 L77.1,538.4 L77.4,543.1 L77.6,544.4 L77.8,543.1 L78.1,538.4 L82.4,365.2 L82.7,359.7 L82.9,358.2 L83.1,359.7 L83.5,365.2 L86.9,538.0 L87.2,542.7 L87.4,544.0 L87.6,542.7 L87.9,538.0 L92.4,364.6 L92.7,359.1 L92.9,357.6 L93.1,359.1 L93.5,364.6 L96.6,540.5 L96.9,545.2 L97.1,546.5 L97.3,545.2 L97.6,540.5 L102.0,365.8 L102.4,360.3 L102.6,358.8 L102.8,360.3 L103.1,365.8 L106.6,558.4 L106.9,563.1 L107.1,564.4 L107.3,563.1 L107.6,558.4 L111.7,384.2 L112.0,378.7 L112.2,377.2 L112.4,378.7 L112.8,384.2 L116.2,556.8 L116.5,561.5 L116.7,562.8 L116.9,561.5 L117.2,556.8 L121.5,383.0 L121.8,377.5 L122.0,376.0 L122.2,377.5 L122.5,383.0 L126.0,551.7 L126.3,556.4 L126.5,557.7 L126.7,556.4 L127.0,551.7 L131.0,380.5 L131.4,375.0 L131.6,373.5 L131.8,375.0 L132.2,380.5 L135.7,554.3 L136.0,559.0 L136.2,560.3 L136.4,559.0 L136.7,554.3 L140.5,382.1 L140.9,376.6 L141.1,375.1 L141.3,376.6 L141.7,382.1 L145.3,558.4 L145.6,563.1 L145.8,564.4 L146.0,563.1 L146.3,558.4 L150.3,384.6 L150.7,379.1 L150.9,377.6 L151.1,379.1 L151.5,384.6 L155.1,557.8 L155.4,562.5 L155.6,563.8 L155.8,562.5 L156.1,557.8 L160.1,381.1 L160.5,375.6 L160.7,374.1 L160.9,375.6 L161.2,381.1 L164.7,552.3 L165.0,557.0 L165.2,558.3 L165.4,557.0 L165.7,552.3 L169.9,376.4 L170.3,370.9 L170.5,369.4 L170.7,370.9 L171.1,376.4 L174.4,548.6 L174.7,553.3 L174.9,554.6 L175.1,553.3 L175.4,548.6 L179.4,377.5 L179.8,372.0 L180.0,370.5 L180.2,372.0 L180.6,377.5 L184.2,555.1 L184.5,559.8 L184.7,561.1 L184.9,559.8 L185.2,555.1 L189.0,381.5 L189.4,376.0 L189.6,374.5 L189.8,376.0 L190.2,381.5 L194.0,555.7 L194.3,560.4 L194.5,561.7 L194.7,560.4 L195.0,555.7 L199.1,381.3 L199.4,375.8 L199.7,374.3 L199.9,375.8 L200.2,381.3 L203.6,555.4 L203.9,560.1 L204.1,561.4 L204.2,560.1 L204.6,555.4 L208.8,380.9 L209.1,375.4 L209.3,373.9 L209.5,375.4 L209.9,380.9 L213.4,549.2 L213.7,553.9 L213.9,555.2 L214.1,553.9 L214.4,549.2 L218.4,374.4 L218.8,368.9 L219.0,367.4 L219.2,368.9 L219.6,374.4 L223.0,549.2 L223.3,553.9 L223.5,555.2 L223.7,553.9 L224.0,549.2 L228.2,376.0 L228.6,370.5 L228.8,369.0 L229.0,370.5 L229.4,376.0 L232.8,550.6 L233.1,555.3 L233.3,556.6 L233.5,555.3 L233.8,550.6 L237.8,381.5 L238.2,376.0 L238.4,374.5 L238.6,376.0 L239.0,381.5 L242.6,560.2 L242.9,564.9 L243.1,566.2 L243.3,564.9 L243.6,560.2 L247.4,384.6 L247.8,379.1 L248.0,377.6 L248.2,379.1 L248.6,384.6 L252.3,560.2 L252.6,564.9 L252.8,566.2 L253.0,564.9 L253.3,560.2 L256.9,387.0 L257.3,381.5 L257.5,380.0 L257.7,381.5 L258.1,387.0 L262.1,566.9 L262.4,571.6 L262.6,572.9 L262.8,571.6 L263.1,566.9 L266.8,394.4 L267.1,388.9 L267.3,387.4 L267.5,388.9 L267.9,394.4 L271.9,566.5 L272.2,571.2 L272.4,572.5 L272.6,571.2 L272.9,566.5 L276.6,390.7 L276.9,385.2 L277.1,383.7 L277.3,385.2 L277.7,390.7 L281.7,565.3 L282.0,570.0 L282.2,571.3 L282.4,570.0 L282.7,565.3 L286.1,391.3 L286.4,385.8 L286.6,384.3 L286.8,385.8 L287.2,391.3 L291.4,564.9 L291.7,569.6 L291.9,570.9 L292.1,569.6 L292.4,564.9 L295.6,391.5 L296.0,386.0 L296.2,384.5 L296.4,386.0 L296.8,391.5 L300.8,564.5 L301.1,569.2 L301.3,570.5 L301.5,569.2 L301.8,564.5 L305.4,392.5 L305.8,387.0 L306.0,385.5 L306.2,387.0 L306.6,392.5 L310.6,562.5 L310.9,567.2 L311.1,568.5 L311.3,567.2 L311.6,562.5 L312.6,515.0 L313.1,502.7 L313.6,517.0 L314.1,508.2 L323.7,508.2" fill="none" stroke="#efb52a" stroke-width="1.4" stroke-linejoin="round" clip-path="url(#ce)"/>
<text x="51.60" y="608.30" font-size="9.5" text-anchor="middle" fill="#333333" font-family='"Liberation Sans", sans-serif' font-weight="normal">0</text>
<text x="94.33" y="608.30" font-size="9.5" text-anchor="middle" fill="#333333" font-family='"Liberation Sans", sans-serif' font-weight="normal">20</text>
<text x="137.06" y="608.30" font-size="9.5" text-anchor="middle" fill="#333333" font-family='"Liberation Sans", sans-serif' font-weight="normal">40</text>
<text x="179.79" y="608.30" font-size="9.5" text-anchor="middle" fill="#333333" font-family='"Liberation Sans", sans-serif' font-weight="normal">60</text>
<text x="222.51" y="608.30" font-size="9.5" text-anchor="middle" fill="#333333" font-family='"Liberation Sans", sans-serif' font-weight="normal">80</text>
<text x="265.24" y="608.30" font-size="9.5" text-anchor="middle" fill="#333333" font-family='"Liberation Sans", sans-serif' font-weight="normal">100</text>
<text x="307.97" y="608.30" font-size="9.5" text-anchor="middle" fill="#333333" font-family='"Liberation Sans", sans-serif' font-weight="normal">120</text>
<text x="350.70" y="608.30" font-size="9.5" text-anchor="middle" fill="#333333" font-family='"Liberation Sans", sans-serif' font-weight="normal">140</text>
<text x="47.10" y="598.60" font-size="9.5" text-anchor="end" fill="#333333" font-family='"Liberation Sans", sans-serif' font-weight="normal">-60</text>
<text x="47.10" y="558.62" font-size="9.5" text-anchor="end" fill="#333333" font-family='"Liberation Sans", sans-serif' font-weight="normal">-40</text>
<text x="47.10" y="518.63" font-size="9.5" text-anchor="end" fill="#333333" font-family='"Liberation Sans", sans-serif' font-weight="normal">-20</text>
<text x="47.10" y="478.65" font-size="9.5" text-anchor="end" fill="#333333" font-family='"Liberation Sans", sans-serif' font-weight="normal">0</text>
<text x="47.10" y="438.67" font-size="9.5" text-anchor="end" fill="#333333" font-family='"Liberation Sans", sans-serif' font-weight="normal">20</text>
<text x="47.10" y="398.68" font-size="9.5" text-anchor="end" fill="#333333" font-family='"Liberation Sans", sans-serif' font-weight="normal">40</text>
<text x="47.10" y="358.70" font-size="9.5" text-anchor="end" fill="#333333" font-family='"Liberation Sans", sans-serif' font-weight="normal">60</text>
<text x="200.60" y="351.00" font-size="9.85" text-anchor="middle" fill="#111" font-family='"Liberation Sans", sans-serif' font-weight="normal">Attitude</text>
<text x="200.60" y="622.40" font-size="9.95" text-anchor="middle" fill="#333333" font-family='"Liberation Sans", sans-serif' font-weight="normal">time [s]</text>
<text x="29.60" y="474.80" font-size="9.7" text-anchor="middle" fill="#333333" font-family='"Liberation Sans", sans-serif' font-weight="normal" transform="rotate(-90 29.60 474.80)" letter-spacing="0.15">Angle [deg]</text>
<rect x="294.1" y="364.2" width="46.89999999999998" height="35.80000000000001" fill="#fff" stroke="#6a6a6a" stroke-width="1"/>
<line x1="296.9" y1="370.80" x2="317.3" y2="370.80" stroke="#ec5050" stroke-width="1.8" stroke-linecap="butt"/>
<text x="319.80" y="373.79" font-size="8.3" text-anchor="start" fill="#222" font-family='"Liberation Sans", sans-serif' font-weight="normal">Roll</text>
<line x1="296.9" y1="382.00" x2="317.3" y2="382.00" stroke="#2ec0e8" stroke-width="1.8" stroke-linecap="butt"/>
<text x="319.80" y="384.99" font-size="8.3" text-anchor="start" fill="#222" font-family='"Liberation Sans", sans-serif' font-weight="normal">Pitch</text>
<line x1="296.9" y1="393.20" x2="317.3" y2="393.20" stroke="#efaf1a" stroke-width="1.8" stroke-linecap="butt"/>
<text x="319.80" y="396.19" font-size="8.3" text-anchor="start" fill="#222" font-family='"Liberation Sans", sans-serif' font-weight="normal">Yaw</text>
<text x="189.60" y="647.40" font-size="18.5" text-anchor="middle" fill="#111" font-family='"Liberation Serif", serif' font-weight="normal">(<tspan font-weight="bold">e</tspan>)</text>
<clipPath id="cf"><rect x="443.40000000000003" y="334.0" width="329.69999999999993" height="264.7"/></clipPath>
<rect x="444.6" y="334.6" width="327.29999999999995" height="263.5" fill="none" stroke="#555" stroke-width="1.0"/>
<path d="M444.93,598.1v-3M444.93,334.6v3M553.56,598.1v-3M553.56,334.6v3M662.18,598.1v-3M662.18,334.6v3M770.81,598.1v-3M770.81,334.6v3M444.6,582.39h3M771.9,582.39h-3M444.6,538.40h3M771.9,538.40h-3M444.6,494.40h3M771.9,494.40h-3M444.6,450.40h3M771.9,450.40h-3M444.6,406.40h3M771.9,406.40h-3M444.6,362.41h3M771.9,362.41h-3" stroke="#555" stroke-width="1.0" fill="none"/>
<path d="M445.3,494.2 L459.5,506.2 M457.6,503 C456.5,497 457.5,492 460.5,490.6 C464,489.5 468,490 472.6,494.7 C472.2,490.2 473.6,487.0 475.8,487.0 C478.8,487.0 481.8,488.2 484.3,490.7 C483.9,486.7 485.3,483.5 487.5,483.5 C490.5,483.5 493.6,484.8 496.1,487.3 C495.7,483.3 497.1,480.2 499.3,480.2 C502.3,480.2 505.4,481.7 507.9,484.2 C507.5,480.2 508.9,477.1 511.1,477.1 C514.1,477.1 517.2,478.7 519.7,481.2 C519.3,477.2 520.7,474.1 522.9,474.1 C525.9,474.1 529.0,475.8 531.5,478.3 C531.1,474.3 532.5,471.3 534.7,471.3 C537.7,471.3 540.8,473.1 543.3,475.6 C542.9,471.6 544.3,468.7 546.5,468.7 C549.5,468.7 552.7,470.5 555.2,473.0 C554.8,469.0 556.2,466.1 558.4,466.1 C561.4,466.1 564.6,468.0 567.1,470.5 C566.7,466.5 568.1,463.7 570.3,463.7 C573.3,463.7 576.5,465.6 579.0,468.1 C578.6,464.1 580.0,461.3 582.2,461.3 C585.2,461.3 588.4,463.4 590.9,465.9 C590.5,461.9 591.9,459.0 594.1,459.0 C597.1,459.0 600.3,461.1 602.8,463.6 C602.4,459.6 603.8,456.8 606.0,456.8 C609.0,456.8 612.3,459.0 614.8,461.5 C614.4,457.5 615.8,454.7 618.0,454.7 C621.0,454.7 624.3,456.9 626.8,459.4 C626.4,455.4 627.8,452.6 630.0,452.6 C633.0,452.6 636.3,454.8 638.8,457.3 C638.4,453.3 639.8,450.5 642.0,450.5 C645.0,450.5 648.3,452.7 650.8,455.2 C650.4,451.2 651.8,448.4 654.0,448.4 C657.0,448.4 660.3,450.6 662.8,453.1 C662.4,449.1 663.8,446.3 666.0,446.3 C669.0,446.3 672.4,448.5 674.9,451.0 C674.5,447.0 675.9,444.3 678.1,444.3 C681.1,444.3 684.5,446.3 687.0,448.8 C686.6,444.8 688.0,442.0 690.2,442.0 C693.2,442.0 696.6,444.1 699.1,446.6 C698.7,442.6 700.1,439.8 702.3,439.8 C705.3,439.8 708.7,441.8 711.2,444.3 C710.8,440.3 712.2,437.5 714.4,437.5 C717.4,437.5 720.8,439.4 723.3,441.9 C722.9,437.9 724.3,435.0 726.5,435.0 C729.5,435.0 733.0,436.9 735.5,439.4 C735.1,435.4 736.5,432.5 738.7,432.5 C741.7,432.5 745.2,434.3 747.7,436.8 C747.3,432.3 748.7,429.8 751.2,429.8 C757,432 760,433.5 765,435 L776,443 M481.7,487.3 L489.7,495.9 M493.5,483.9 L501.5,492.5 M505.3,480.8 L513.3,489.4 M517.1,477.8 L525.1,486.4 M528.9,474.9 L536.9,483.5 M540.7,472.2 L548.7,480.8 M552.6,469.6 L560.6,478.2 M564.5,467.1 L572.5,475.7 M576.4,464.7 L584.4,473.3 M588.3,462.5 L596.3,471.1 M600.2,460.2 L608.2,468.8 M612.2,458.1 L620.2,466.7 M624.2,456.0 L632.2,464.6 M636.2,453.9 L644.2,462.5 M648.2,451.8 L656.2,460.4 M660.2,449.7 L668.2,458.3 M672.3,447.6 L680.3,456.2 M684.4,445.4 L692.4,454.0 M696.5,443.2 L704.5,451.8 M708.6,440.9 L716.6,449.5 M720.7,438.5 L728.7,447.1 M732.9,436.0 L740.9,444.6 M745.1,433.4 L753.1,442.0 M751.7,430.3 L760.7,439.8" fill="none" stroke="#f39a1e" stroke-width="1.7" stroke-linejoin="round" clip-path="url(#cf)"/>
<path d="M445.3,494.2 L456,500.8 C454.5,495 454,490 456,488.8 C460,487 466,487 470.6,493.7 C470.2,489.2 471.4,486.0 473.6,486.0 C476.6,486.0 479.7,487.0 482.2,489.5 C481.8,485.5 483.0,482.4 485.2,482.4 C488.2,482.4 491.3,483.6 493.8,486.1 C493.4,482.1 494.6,479.0 496.8,479.0 C499.8,479.0 503.0,480.3 505.5,482.8 C505.1,478.8 506.3,475.8 508.5,475.8 C511.5,475.8 514.7,477.2 517.2,479.7 C516.8,475.7 518.0,472.8 520.2,472.8 C523.2,472.8 526.4,474.3 528.9,476.8 C528.5,472.8 529.6,469.9 531.9,469.9 C534.9,469.9 538.1,471.5 540.6,474.0 C540.2,470.0 541.4,467.1 543.6,467.1 C546.6,467.1 549.8,468.8 552.3,471.3 C551.9,467.3 553.1,464.5 555.3,464.5 C558.3,464.5 561.5,466.3 564.0,468.8 C563.6,464.8 564.8,461.9 567.0,461.9 C570.0,461.9 573.3,463.8 575.8,466.3 C575.4,462.3 576.6,459.5 578.8,459.5 C581.8,459.5 585.1,461.4 587.6,463.9 C587.2,459.9 588.4,457.1 590.6,457.1 C593.6,457.1 596.9,459.1 599.4,461.6 C599.0,457.6 600.2,454.9 602.4,454.9 C605.4,454.9 608.7,456.9 611.2,459.4 C610.8,455.4 612.0,452.6 614.2,452.6 C617.2,452.6 620.6,454.7 623.1,457.2 C622.7,453.2 623.9,450.4 626.1,450.4 C629.1,450.4 632.5,452.5 635.0,455.0 C634.6,451.0 635.8,448.3 638.0,448.3 C641.0,448.3 644.4,450.4 646.9,452.9 C646.5,448.9 647.6,446.2 649.9,446.2 C652.9,446.2 656.3,448.3 658.8,450.8 C658.4,446.8 659.6,444.0 661.8,444.0 C664.8,444.0 668.2,446.1 670.7,448.6 C670.3,444.6 671.5,441.9 673.7,441.9 C676.7,441.9 680.1,443.9 682.6,446.4 C682.2,442.4 683.4,439.7 685.6,439.7 C688.6,439.7 692.1,441.7 694.6,444.2 C694.2,440.2 695.4,437.5 697.6,437.5 C700.6,437.5 704.1,439.5 706.6,442.0 C706.2,438.0 707.4,435.2 709.6,435.2 C712.6,435.2 716.1,437.1 718.6,439.6 C718.2,435.6 719.4,432.8 721.6,432.8 C724.6,432.8 728.1,434.7 730.6,437.2 C730.2,433.2 731.4,430.4 733.6,430.4 C736.6,430.4 740.2,432.2 742.7,434.7 C742.3,430.2 743.7,427.7 745.7,427.7 L750.4,430.2" fill="none" stroke="#f0309e" stroke-width="1.7" stroke-linejoin="round" clip-path="url(#cf)"/>
<polyline points="445.3,494 472.1,480.6 492.9,474.8 513.1,470 531.3,466.4 551.9,460.5 571,461 589.9,454.7 608.7,449 626.3,447.2 647.3,443.3 667,437.8 685.6,433.7 707.6,432.3 726.3,428.2 742.7,425.5" fill="none" stroke="#2a7be4" stroke-width="1.8" stroke-dasharray="1.6,2.2"/>
<path d="M472.1,477.40000000000003 L474.8,480.6 L472.1,483.8 L469.40000000000003,480.6 Z" fill="#9cc2f2" stroke="#2a7be4" stroke-width="1.6"/>
<path d="M492.9,471.6 L495.59999999999997,474.8 L492.9,478.0 L490.2,474.8 Z" fill="#9cc2f2" stroke="#2a7be4" stroke-width="1.6"/>
<path d="M513.1,466.8 L515.8000000000001,470 L513.1,473.2 L510.40000000000003,470 Z" fill="#9cc2f2" stroke="#2a7be4" stroke-width="1.6"/>
<path d="M531.3,463.2 L534.0,466.4 L531.3,469.59999999999997 L528.5999999999999,466.4 Z" fill="#9cc2f2" stroke="#2a7be4" stroke-width="1.6"/>
<path d="M551.9,457.3 L554.6,460.5 L551.9,463.7 L549.1999999999999,460.5 Z" fill="#9cc2f2" stroke="#2a7be4" stroke-width="1.6"/>
<path d="M571,457.8 L573.7,461 L571,464.2 L568.3,461 Z" fill="#9cc2f2" stroke="#2a7be4" stroke-width="1.6"/>
<path d="M589.9,451.5 L592.6,454.7 L589.9,457.9 L587.1999999999999,454.7 Z" fill="#9cc2f2" stroke="#2a7be4" stroke-width="1.6"/>
<path d="M608.7,445.8 L611.4000000000001,449 L608.7,452.2 L606.0,449 Z" fill="#9cc2f2" stroke="#2a7be4" stroke-width="1.6"/>
<path d="M626.3,444.0 L629.0,447.2 L626.3,450.4 L623.5999999999999,447.2 Z" fill="#9cc2f2" stroke="#2a7be4" stroke-width="1.6"/>
<path d="M647.3,440.1 L650.0,443.3 L647.3,446.5 L644.5999999999999,443.3 Z" fill="#9cc2f2" stroke="#2a7be4" stroke-width="1.6"/>
<path d="M667,434.6 L669.7,437.8 L667,441.0 L664.3,437.8 Z" fill="#9cc2f2" stroke="#2a7be4" stroke-width="1.6"/>
<path d="M685.6,430.5 L688.3000000000001,433.7 L685.6,436.9 L682.9,433.7 Z" fill="#9cc2f2" stroke="#2a7be4" stroke-width="1.6"/>
<path d="M707.6,429.1 L710.3000000000001,432.3 L707.6,435.5 L704.9,432.3 Z" fill="#9cc2f2" stroke="#2a7be4" stroke-width="1.6"/>
<path d="M726.3,425.0 L729.0,428.2 L726.3,431.4 L723.5999999999999,428.2 Z" fill="#9cc2f2" stroke="#2a7be4" stroke-width="1.6"/>
<path d="M742.7,422.3 L745.4000000000001,425.5 L742.7,428.7 L740.0,425.5 Z" fill="#9cc2f2" stroke="#2a7be4" stroke-width="1.6"/>
<path d="M445.3,490.2 L448.3,494.2 L445.3,498.2 L442.3,494.2 Z" fill="#2a7be4" stroke="#2a7be4" stroke-width="1.5"/>
<rect x="442.8" y="491.7" width="5" height="5" fill="#3a2a6a" stroke="#111" stroke-width="1.6"/>
<rect x="748" y="427.8" width="4.8" height="4.8" fill="#e0a0e8" stroke="#8a2bc0" stroke-width="1.6"/>
<rect x="762.6" y="432.6" width="4.8" height="4.8" fill="#f0c040" stroke="#22dd22" stroke-width="1.6"/>
<text x="444.93" y="611.30" font-size="9.5" text-anchor="middle" fill="#333333" font-family='"Liberation Sans", sans-serif' font-weight="normal">0</text>
<text x="553.56" y="611.30" font-size="9.5" text-anchor="middle" fill="#333333" font-family='"Liberation Sans", sans-serif' font-weight="normal">5</text>
<text x="662.18" y="611.30" font-size="9.5" text-anchor="middle" fill="#333333" font-family='"Liberation Sans", sans-serif' font-weight="normal">10</text>
<text x="770.81" y="611.30" font-size="9.5" text-anchor="middle" fill="#333333" font-family='"Liberation Sans", sans-serif' font-weight="normal">15</text>
<text x="440.30" y="586.19" font-size="9.5" text-anchor="end" fill="#333333" font-family='"Liberation Sans", sans-serif' font-weight="normal">-4</text>
<text x="440.30" y="542.20" font-size="9.5" text-anchor="end" fill="#333333" font-family='"Liberation Sans", sans-serif' font-weight="normal">-2</text>
<text x="440.30" y="498.20" font-size="9.5" text-anchor="end" fill="#333333" font-family='"Liberation Sans", sans-serif' font-weight="normal">0</text>
<text x="440.30" y="454.20" font-size="9.5" text-anchor="end" fill="#333333" font-family='"Liberation Sans", sans-serif' font-weight="normal">2</text>
<text x="440.30" y="410.20" font-size="9.5" text-anchor="end" fill="#333333" font-family='"Liberation Sans", sans-serif' font-weight="normal">4</text>
<text x="440.30" y="366.21" font-size="9.5" text-anchor="end" fill="#333333" font-family='"Liberation Sans", sans-serif' font-weight="normal">6</text>
<text x="608.20" y="331.00" font-size="9.7" text-anchor="middle" fill="#111" font-family='"Liberation Sans", sans-serif' font-weight="normal">Motion track display</text>
<text x="608.40" y="624.60" font-size="9.6" text-anchor="middle" fill="#333333" font-family='"Liberation Sans", sans-serif' font-weight="normal">x [m]</text>
<text x="427.80" y="466.30" font-size="9.5" text-anchor="middle" fill="#333333" font-family='"Liberation Sans", sans-serif' font-weight="normal" transform="rotate(-90 427.80 466.30)">y [m]</text>
<rect x="453.1" y="343.4" width="151.5" height="66.9" fill="#fff" stroke="#444" stroke-width="1"/>
<line x1="456.2" y1="350.2" x2="475.6" y2="350.2" stroke="#f39a1e" stroke-width="1.7"/>
<line x1="456.2" y1="360.9" x2="475.6" y2="360.9" stroke="#2a7be4" stroke-width="1.8" stroke-dasharray="1.6,2.2"/>
<path d="M466,357.5 L468.9,360.9 L466,364.29999999999995 L463.1,360.9 Z" fill="#9cc2f2" stroke="#2a7be4" stroke-width="1.6"/>
<rect x="463.8" y="369.7" width="4.4" height="4.4" fill="none" stroke="#111" stroke-width="1.5"/>
<rect x="463.8" y="380.40000000000003" width="4.4" height="4.4" fill="none" stroke="#22dd22" stroke-width="1.5"/>
<line x1="456.2" y1="393" x2="475.6" y2="393" stroke="#f0309e" stroke-width="1.7"/>
<rect x="463.8" y="401.5" width="4.4" height="4.4" fill="none" stroke="#8a2bc0" stroke-width="1.5"/>
<text x="478.00" y="353.10" font-size="7.85" text-anchor="start" fill="#222" font-family='"Liberation Sans", sans-serif' font-weight="normal">ZUPT Dead reckoning track</text>
<text x="478.00" y="363.80" font-size="7.85" text-anchor="start" fill="#222" font-family='"Liberation Sans", sans-serif' font-weight="normal">Real motion track</text>
<text x="478.00" y="374.80" font-size="7.85" text-anchor="start" fill="#222" font-family='"Liberation Sans", sans-serif' font-weight="normal">Start</text>
<text x="478.00" y="385.50" font-size="7.85" text-anchor="start" fill="#222" font-family='"Liberation Sans", sans-serif' font-weight="normal">ZUPT Stop</text>
<text x="478.00" y="395.90" font-size="7.85" text-anchor="start" fill="#222" font-family='"Liberation Sans", sans-serif' font-weight="normal">ZUPT+ZARU Dead reckoning track</text>
<text x="478.00" y="406.60" font-size="7.85" text-anchor="start" fill="#222" font-family='"Liberation Sans", sans-serif' font-weight="normal">ZUPT+ZARU Stop</text>
<text x="599.00" y="647.60" font-size="18.5" text-anchor="middle" fill="#111" font-family='"Liberation Serif", serif' font-weight="normal">(<tspan font-weight="bold">f</tspan>)</text>
</svg>
</body></html>
